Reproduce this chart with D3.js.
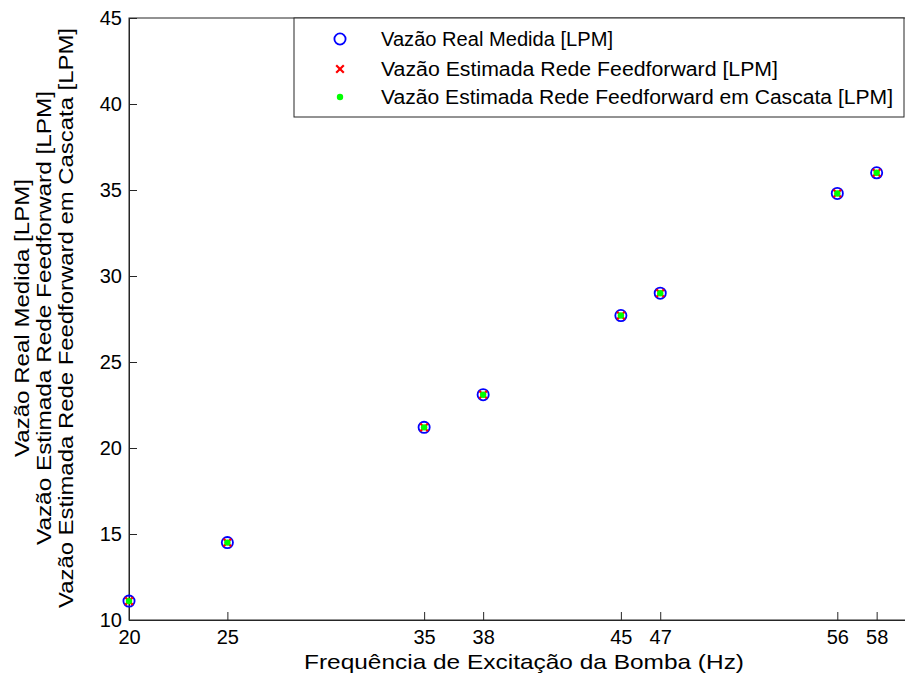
<!DOCTYPE html>
<html>
<head>
<meta charset="utf-8">
<script src="https://cdn.jsdelivr.net/npm/d3@7"></script>
<style>
  body { margin: 0; background: #fff; }
  text { font-family: "Liberation Sans", Arial, sans-serif; fill: #000; }
</style>
</head>
<body>
<div id="chart"></div>
<script>
// Data
const frequencies = [20, 25, 35, 38, 45, 47, 56, 58];
const measuredFlow = [11.1, 14.5, 21.2, 23.1, 27.7, 29.0, 34.8, 36.0];
const ffFlow = [11.1, 14.5, 21.2, 23.1, 27.7, 29.0, 34.8, 36.0];
const cascadeFlow = [11.1, 14.5, 21.2, 23.1, 27.7, 29.0, 34.8, 36.0];
const xTicks = [20, 25, 35, 38, 45, 47, 56, 58];
const yTicks = [10, 15, 20, 25, 30, 35, 40, 45];
const legendLabels = [
  "Vazão Real Medida [LPM]",
  "Vazão Estimada Rede Feedforward [LPM]",
  "Vazão Estimada Rede Feedforward em Cascata [LPM]"
];
const yLabelLines = legendLabels;

const width = 905, height = 683;
const margin = { top: 18, left: 129, bottom: 63 };
const plotRight = 916;
const fontSize = 20;

const svg = d3.select("#chart").append("svg")
  .attr("width", width)
  .attr("height", height);

const x = d3.scaleLinear().domain([20, 60]).range([margin.left, plotRight]);
const y = d3.scaleLinear().domain([10, 45]).range([height - margin.bottom, margin.top]);

// Axes box
svg.append("rect")
  .attr("x", margin.left).attr("y", margin.top)
  .attr("width", plotRight - margin.left)
  .attr("height", y(10) - margin.top)
  .attr("fill", "none").attr("stroke", "#262626").attr("stroke-width", 1);

// X axis (ticks inward)
const xAxis = svg.append("g")
  .attr("transform", `translate(0, ${y(10)})`)
  .call(d3.axisBottom(x).tickValues(xTicks).tickSizeInner(-8).tickSizeOuter(0).tickPadding(10));
xAxis.select(".domain").attr("stroke", "#262626");
xAxis.selectAll(".tick line").attr("stroke", "#262626");
xAxis.selectAll("text").attr("font-size", fontSize).attr("font-family", "Liberation Sans, Arial, sans-serif");

// Y axis (ticks inward)
const yAxis = svg.append("g")
  .attr("transform", `translate(${margin.left}, 0)`)
  .call(d3.axisLeft(y).tickValues(yTicks).tickSizeInner(-8).tickSizeOuter(0).tickPadding(7));
yAxis.select(".domain").attr("stroke", "#262626");
yAxis.selectAll(".tick line").attr("stroke", "#262626");
yAxis.selectAll("text").attr("font-size", fontSize).attr("font-family", "Liberation Sans, Arial, sans-serif");

// Markers
function drawCircle(g, cx, cy) {
  g.append("circle").attr("cx", cx).attr("cy", cy).attr("r", 5.6)
    .attr("fill", "none").attr("stroke", "#0000ff").attr("stroke-width", 1.8);
}
function drawCross(g, cx, cy) {
  const s = 3.8;
  g.append("path")
    .attr("d", `M${cx - s},${cy - s}L${cx + s},${cy + s}M${cx - s},${cy + s}L${cx + s},${cy - s}`)
    .attr("stroke", "#ff0000").attr("stroke-width", 2.2);
}
function drawDot(g, cx, cy) {
  g.append("circle").attr("cx", cx).attr("cy", cy).attr("r", 3.2)
    .attr("fill", "#00ff00");
}

const marks = svg.append("g");
frequencies.forEach((f, i) => drawCircle(marks, x(f), y(measuredFlow[i])));
frequencies.forEach((f, i) => drawCross(marks, x(f), y(ffFlow[i])));
frequencies.forEach((f, i) => drawDot(marks, x(f), y(cascadeFlow[i])));

// X label
svg.append("text")
  .attr("x", 524).attr("y", 669)
  .attr("text-anchor", "middle")
  .attr("font-size", 21)
  .attr("textLength", 440)
  .attr("lengthAdjust", "spacingAndGlyphs")
  .text("Frequência de Excitação da Bomba (Hz)");

// Y label (three lines)
const yLabelWidths = [278, 454, 580];
const yLabel = svg.append("g")
  .attr("transform", `translate(0, 318) rotate(-90)`);
yLabelLines.forEach((line, i) => {
  yLabel.append("text")
    .attr("x", 0).attr("y", 29 + i * 22)
    .attr("text-anchor", "middle")
    .attr("font-size", 21)
    .attr("textLength", yLabelWidths[i])
    .attr("lengthAdjust", "spacingAndGlyphs")
    .text(line);
});

// Legend
const legend = svg.append("g");
legend.append("rect")
  .attr("x", 294).attr("y", 18).attr("width", 610).attr("height", 99)
  .attr("fill", "#fff").attr("stroke", "#262626").attr("stroke-width", 1);
const rowY = [39, 69, 97];
const legendWidths = [232, 397, 512];
drawCircle(legend, 340, rowY[0]);
drawCross(legend, 340, rowY[1]);
drawDot(legend, 340, rowY[2]);
legendLabels.forEach((lab, i) => {
  legend.append("text")
    .attr("x", 381).attr("y", rowY[i] + 7)
    .attr("font-size", fontSize)
    .attr("textLength", legendWidths[i])
    .attr("lengthAdjust", "spacingAndGlyphs")
    .text(lab);
});
</script>
</body>
</html>
